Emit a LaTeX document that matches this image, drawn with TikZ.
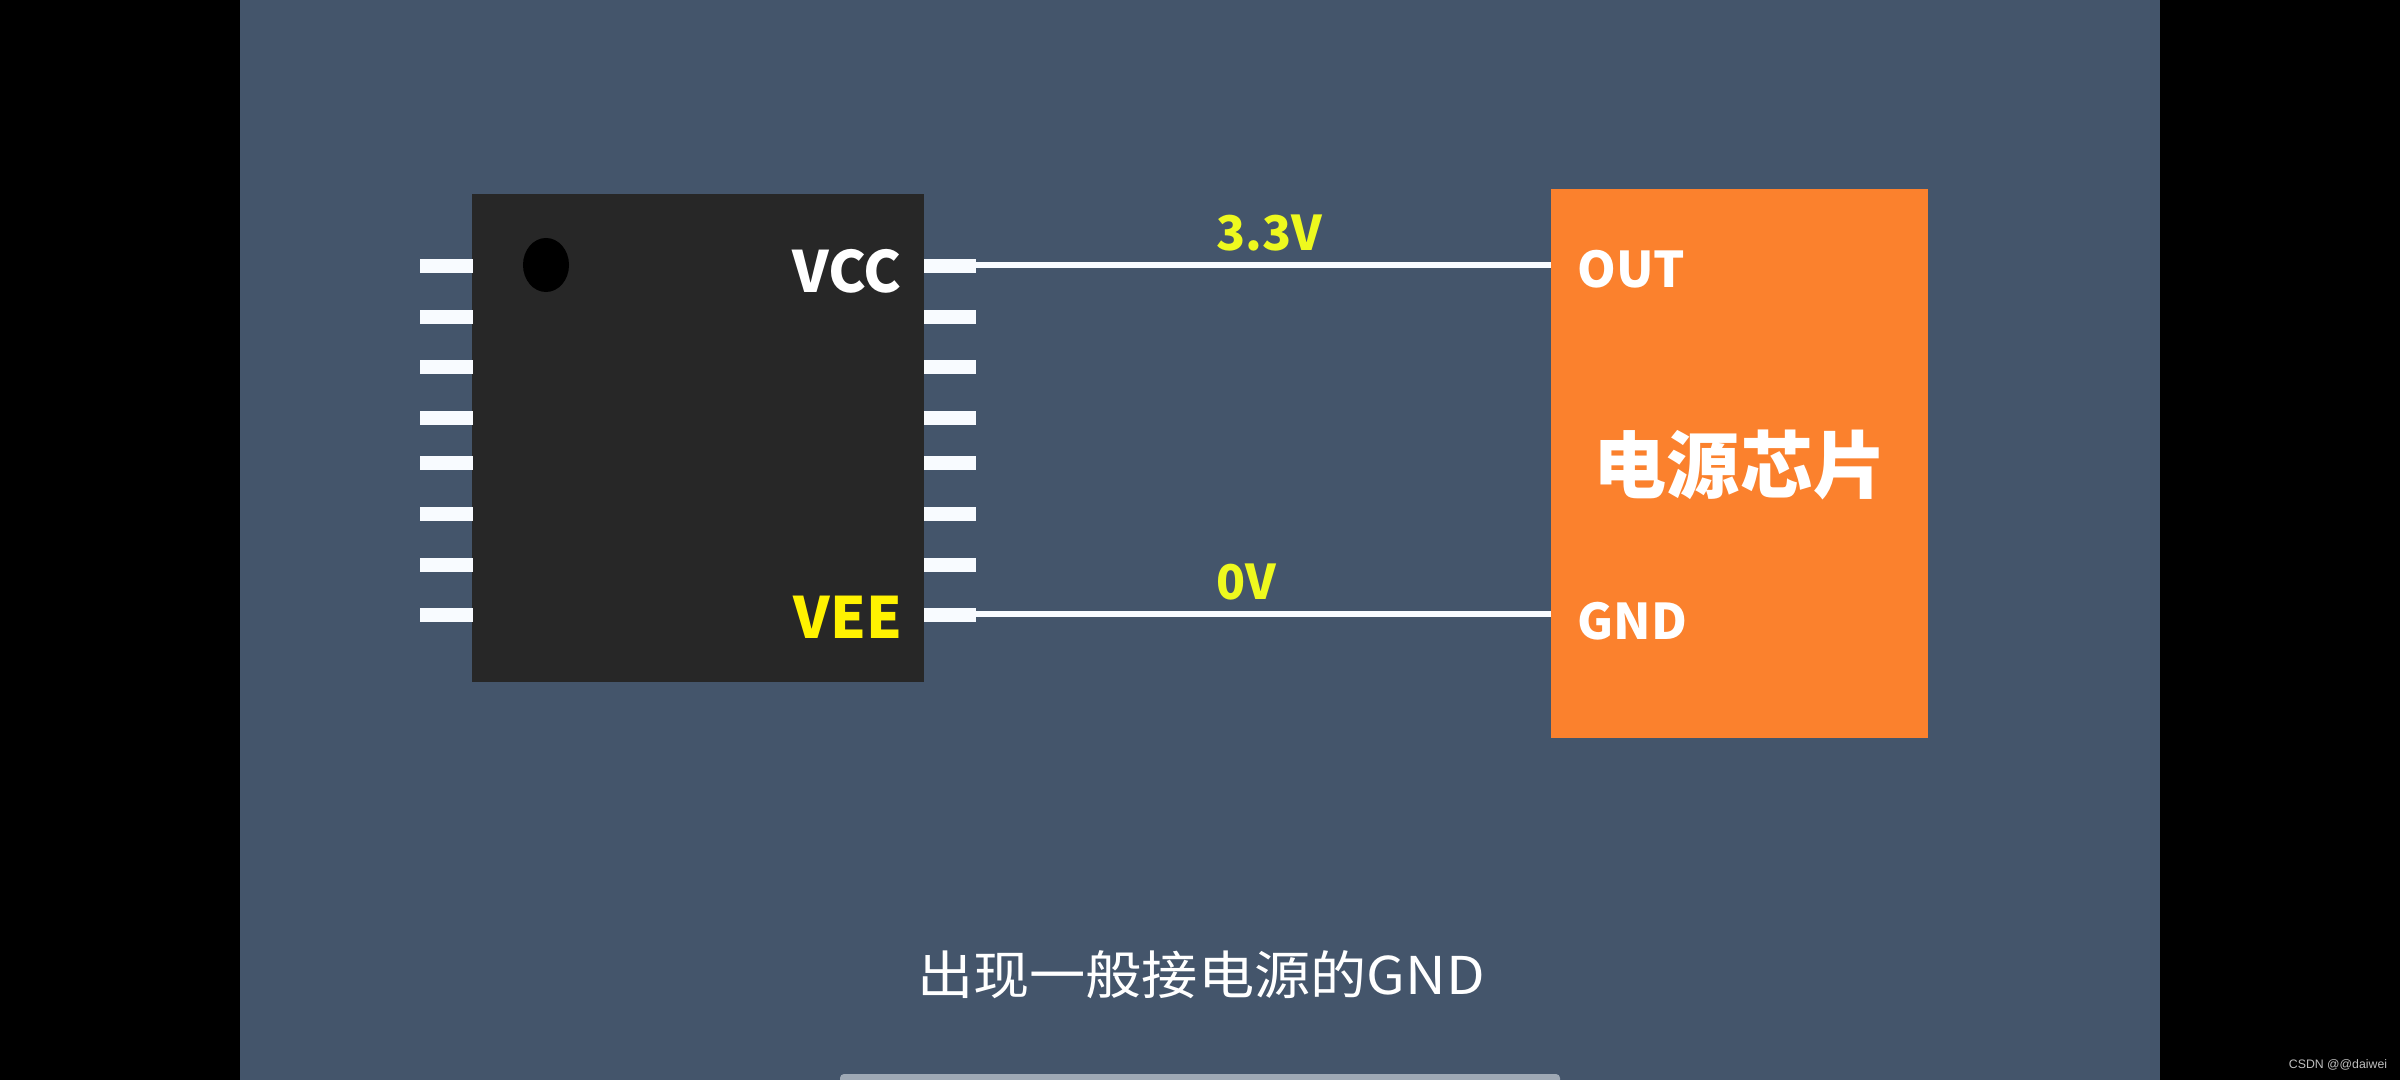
\documentclass[tikz,border=0pt]{standalone}
\usepackage{fontspec}
\setmainfont{Noto Sans CJK SC}
\newfontfamily\wmfont{Liberation Sans}
\usetikzlibrary{positioning,shapes.geometric}
\definecolor{panelblue}{HTML}{44556B}
\definecolor{chipblack}{HTML}{272727}
\definecolor{psuorange}{HTML}{FB812D}
\definecolor{pinwhite}{HTML}{F8FBFF}
\definecolor{voltyellow}{HTML}{EEF91E}
\definecolor{veeyellow}{HTML}{FFF200}
\definecolor{barblue}{HTML}{9FA9B5}
\begin{document}
\begin{tikzpicture}[x=0.01cm,y=-0.01cm]
\useasboundingbox (0,0) rectangle (2400,1080);
\fill[black] (0,0) rectangle (2400,1080);
\fill[panelblue] (240,0) rectangle (2160,1080);
\begin{scope}
    \clip (0,0) rectangle (2400,1080);
    \fill[barblue,rounded corners=0.04cm] (840,1074) rectangle (1560,1100);
\end{scope}
\node[fill=chipblack,minimum width=4.52cm,minimum height=4.88cm,inner sep=0pt] (chip) at (698,438) {};
\node[fill=psuorange,minimum width=3.77cm,minimum height=5.49cm,inner sep=0pt] (psu) at (1739.5,463.5) {};
\node[fill=black,ellipse,minimum width=0.46cm,minimum height=0.54cm,inner sep=0pt] (dot) at (546,265) {};
\begin{scope}[every node/.style={fill=pinwhite,minimum width=0.52cm,minimum height=0.145cm,inner sep=0pt}]
    \node (L1) at (446.5,266) {};
    \node (L2) at (446.5,317) {};
    \node (L3) at (446.5,367) {};
    \node (L4) at (446.5,418) {};
    \node (L5) at (446.5,463) {};
    \node (L6) at (446.5,514) {};
    \node (L7) at (446.5,565) {};
    \node (L8) at (446.5,615) {};
    \node (R1) at (950,266) {};
    \node (R2) at (950,317) {};
    \node (R3) at (950,367) {};
    \node (R4) at (950,418) {};
    \node (R5) at (950,463) {};
    \node (R6) at (950,514) {};
    \node (R7) at (950,565) {};
    \node (R8) at (950,615) {};
\end{scope}
\coordinate (out) at (1551,265);
\coordinate (gnd) at (1551,614);
\begin{scope}[every edge/.style={draw=pinwhite,line width=0.06cm}]
    \path [-] (R1 |- out) edge (out);
    \path [-] (R8 |- gnd) edge (gnd);
\end{scope}
\begin{scope}[every node/.style={inner sep=0pt,font=\fontsize{16.2pt}{18pt}\selectfont\bfseries}]
    \node[text=white] (vcc) at (847,271) {VCC};
    \node[text=veeyellow] (vee) at (848,617) {VEE};
\end{scope}
\begin{scope}[every node/.style={inner sep=0pt,text=voltyellow,font=\fontsize{13.6pt}{16pt}\selectfont\bfseries}]
    \node (v33) at (1269,233) {3.3V};
    \node (v0) at (1246,582) {0V};
\end{scope}
\begin{scope}[every node/.style={inner sep=0pt,text=white,anchor=west,font=\fontsize{14pt}{16pt}\selectfont\bfseries}]
    \node (outlbl) at (1577,269) {OUT};
    \node (gndlbl) at (1577,621) {GND};
\end{scope}
\node[inner sep=0pt,text=white,font=\fontsize{20.8pt}{22pt}\selectfont\bfseries] (psulbl) at (1740,465) {电源芯片};
\node[inner sep=0pt,text=white,xscale=1.08,transform shape,font=\fontsize{14.8pt}{16pt}\selectfont] (caption) at (1201,975) {出现一般接电源的GND};
\node[inner sep=0pt,text=white!75!black,font=\fontsize{3.5pt}{4pt}\wmfont] (mark) at (2338,1065) {CSDN @@daiwei};
\end{tikzpicture}
\end{document}
